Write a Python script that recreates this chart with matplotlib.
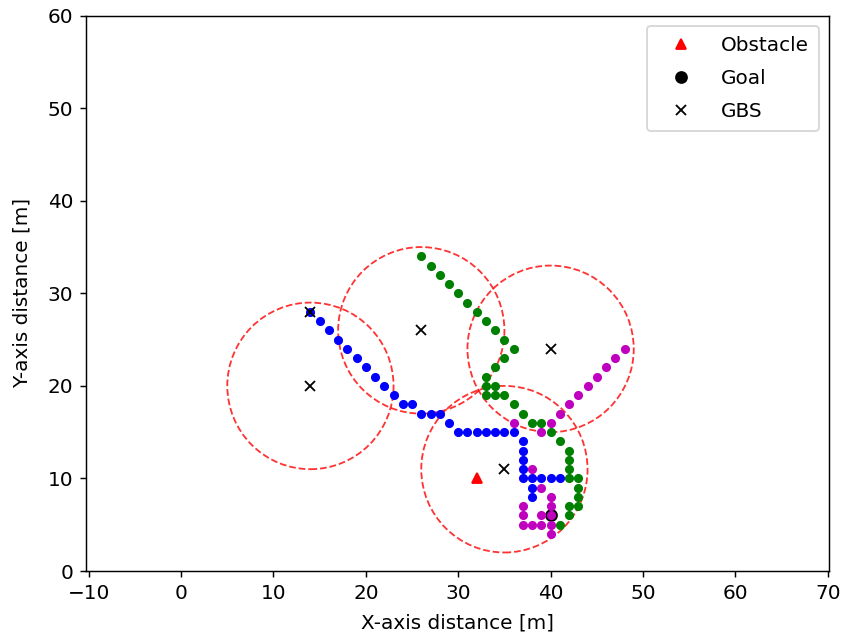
import matplotlib
matplotlib.use("Agg")
import matplotlib.pyplot as plt

plt.rcParams['font.size'] = 11

# ground base stations and their coverage radius
gbs_x = [14, 14, 26, 40, 35]
gbs_y = [20, 28, 26, 24, 11]
circle_cx = [14, 26, 40, 35]
circle_cy = [20, 26, 24, 11]
radius = 9

obstacle = (32, 10)
goal = (40, 6)

# paths
blue_x = [14, 15, 16, 17, 18, 19, 20, 21, 22, 23, 24, 25, 26, 27, 28, 29, 30, 31, 32, 33, 34, 35, 36,
          37, 37, 37, 37, 37, 38, 39, 40, 41, 38, 38]
blue_y = [28, 27, 26, 25, 24, 23, 22, 21, 20, 19, 18, 18, 17, 17, 17, 16, 15, 15, 15, 15, 15, 15, 15,
          14, 13, 12, 11, 10, 10, 10, 10, 10, 9, 8]

green_x = [26, 27, 28, 29, 30, 31, 32, 33, 34, 35, 36, 35, 34, 33, 33, 34, 33, 34, 35, 36, 37, 38, 39,
           40, 41, 42, 42, 42, 42, 43, 43, 43, 42, 43, 42, 41]
green_y = [34, 33, 32, 31, 30, 29, 28, 27, 26, 25, 24, 23, 22, 21, 20, 20, 19, 19, 19, 18, 17, 16, 16,
           15, 14, 13, 12, 11, 10, 10, 9, 8, 7, 7, 6, 5]

mag_x = [48, 47, 46, 45, 44, 43, 42, 41, 40, 39, 36, 38, 39, 40, 40, 40, 40, 40, 39, 39, 38, 37, 37, 37]
mag_y = [24, 23, 22, 21, 20, 19, 18, 17, 16, 15, 16, 11, 9, 8, 7, 6, 5, 4, 6, 5, 5, 5, 6, 7]

fig = plt.figure(figsize=(841 / 131, 637 / 131), dpi=131)
ax = fig.add_axes([0.1023, 0.1036, 0.8838, 0.8718])

for cx, cy in zip(circle_cx, circle_cy):
    ax.add_patch(plt.Circle((cx, cy), radius, fill=False, color='r', linestyle='--', alpha=0.8))

ax.plot(goal[0], goal[1], 'ko', label='Goal')
ax.plot(blue_x, blue_y, 'bo', markersize=4, linestyle='none')
ax.plot(green_x, green_y, 'go', markersize=4, linestyle='none')
ax.plot(mag_x, mag_y, 'mo', markersize=4, linestyle='none')
ax.plot(obstacle[0], obstacle[1], 'r^', label='Obstacle')
ax.plot(gbs_x, gbs_y, 'kx', label='GBS', linestyle='none')

h, l = ax.get_legend_handles_labels()
order = [l.index('Obstacle'), l.index('Goal'), l.index('GBS')]
ax.legend([h[i] for i in order], [l[i] for i in order], loc='upper right',
          labelspacing=0.7, handlelength=2.4, borderpad=0.5)

ax.set_xlim(-10.29, 70.17)
ax.set_ylim(0, 60)
ax.set_xticks(range(-10, 71, 10))
ax.set_xlabel('X-axis distance [m]', labelpad=6)
ax.set_ylabel('Y-axis distance [m]', labelpad=9)

fig.savefig('out.png', dpi=131)
